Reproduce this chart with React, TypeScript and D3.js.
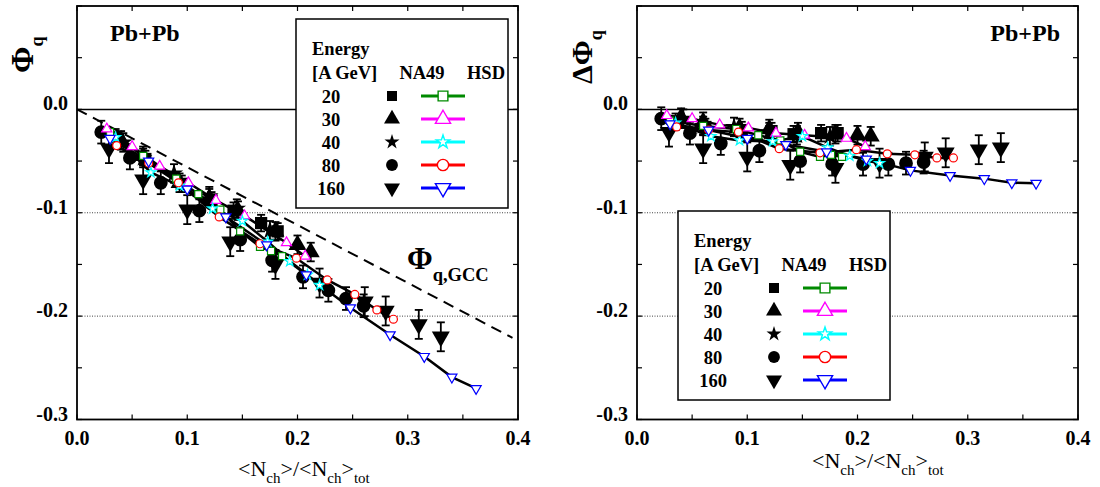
import React from 'react';
import * as d3 from 'd3';

// ---------------- data ----------------
const energyLabels = ['20', '30', '40', '80', '160'];
const hsdColors = ['#008a00', '#ff00ff', '#00ffff', '#ff0000', '#0000ff'];
const na49Shapes = ['square', 'triangleUp', 'star', 'circle', 'triangleDown'];

// HSD (open symbols, joined by lines)
const hsdX20 = [0.030, 0.060, 0.090, 0.110, 0.130, 0.148, 0.166, 0.176, 0.186];
const hsdPhi20 = [-0.022, -0.045, -0.067, -0.082, -0.097, -0.118, -0.133, -0.137, -0.142];
const hsdDPhi20 = [-0.011, -0.016, -0.019, -0.025, -0.030, -0.041, -0.046, -0.044, -0.046];

const hsdX30 = [0.027, 0.050, 0.075, 0.101, 0.126, 0.152, 0.190, 0.207];
const hsdPhi30 = [-0.019, -0.036, -0.055, -0.071, -0.088, -0.103, -0.129, -0.142];
const hsdDPhi30 = [-0.006, -0.009, -0.015, -0.018, -0.023, -0.025, -0.028, -0.036];

const hsdX40 = [0.035, 0.067, 0.093, 0.123, 0.150, 0.173, 0.193, 0.209, 0.220];
const hsdPhi40 = [-0.027, -0.061, -0.074, -0.096, -0.108, -0.128, -0.147, -0.160, -0.170];
const hsdDPhi40 = [-0.013, -0.026, -0.030, -0.031, -0.026, -0.037, -0.045, -0.050, -0.052];

const hsdX80 = [0.036, 0.065, 0.092, 0.129, 0.166, 0.199, 0.227, 0.252, 0.272, 0.287];
const hsdPhi80 = [-0.035, -0.052, -0.071, -0.104, -0.130, -0.144, -0.165, -0.179, -0.194, -0.203];
const hsdDPhi80 = [-0.017, -0.020, -0.022, -0.038, -0.042, -0.039, -0.043, -0.044, -0.047, -0.047];

const hsdX160 = [0.030, 0.065, 0.100, 0.135, 0.172, 0.208, 0.248, 0.284, 0.315, 0.340, 0.362];
const hsdPhi160 = [-0.028, -0.050, -0.077, -0.104, -0.131, -0.160, -0.192, -0.218, -0.239, -0.259, -0.270];
const hsdDPhi160 = [-0.014, -0.020, -0.028, -0.034, -0.041, -0.048, -0.059, -0.064, -0.067, -0.071, -0.0715];

// NA49 (filled symbols with error bars)
const na49X20 = [0.035, 0.062, 0.095, 0.122, 0.142, 0.167, 0.182];
const na49Phi20 = [-0.027, -0.048, -0.072, -0.088, -0.098, -0.110, -0.118];
const na49DPhi20 = [-0.012, -0.017, -0.020, -0.021, -0.024, -0.023, -0.023];

const na49X30 = [0.040, 0.060, 0.093, 0.120, 0.146, 0.180, 0.200, 0.212];
const na49Phi30 = [-0.030, -0.045, -0.071, -0.086, -0.098, -0.118, -0.131, -0.138];
const na49DPhi30 = [-0.008, -0.012, -0.018, -0.019, -0.022, -0.024, -0.025, -0.026];

const na49X40 = [0.042, 0.060, 0.088, 0.120, 0.145, 0.175];
const na49Phi40 = [-0.032, -0.047, -0.062, -0.084, -0.096, -0.117];
const na49DPhi40 = [-0.009, -0.016, -0.017, -0.022, -0.025, -0.026];

const na49X80 = [0.022, 0.048, 0.076, 0.111, 0.148, 0.177, 0.205, 0.228, 0.244, 0.260];
const na49Phi80 = [-0.022, -0.047, -0.071, -0.098, -0.126, -0.146, -0.162, -0.175, -0.183, -0.190];
const na49DPhi80 = [-0.009, -0.023, -0.033, -0.040, -0.050, -0.053, -0.053, -0.053, -0.052, -0.051];

const na49X160 = [0.029, 0.060, 0.100, 0.139, 0.180, 0.220, 0.261, 0.280, 0.310, 0.330];
const na49Phi160 = [-0.038, -0.068, -0.097, -0.128, -0.150, -0.168, -0.186, -0.195, -0.208, -0.220];
const na49DPhi160 = [-0.022, -0.038, -0.046, -0.054, -0.057, -0.052, -0.046, -0.042, -0.039, -0.037];

const na49Err = [0.008, 0.009, 0.009, 0.011, 0.014];

// Grand-canonical reference line (left panel)
const gccX = [0, 0.395];
const gccPhi = [0, -0.221];

const xTicks = [0, 0.1, 0.2, 0.3, 0.4];
const xTickLabels = ['0.0', '0.1', '0.2', '0.3', '0.4'];
const xMinor = [0.05, 0.15, 0.25, 0.35];
const yTicks = [0, -0.1, -0.2, -0.3];
const yTickLabels = ['0.0', '-0.1', '-0.2', '-0.3'];
const yMinor = [0.1, 0.05, -0.05, -0.15, -0.25];
const dottedLevels = [-0.1, -0.2];

// ---------------- helpers ----------------
const hsdXs = [hsdX20, hsdX30, hsdX40, hsdX80, hsdX160];
const hsdPhis = [hsdPhi20, hsdPhi30, hsdPhi40, hsdPhi80, hsdPhi160];
const hsdDPhis = [hsdDPhi20, hsdDPhi30, hsdDPhi40, hsdDPhi80, hsdDPhi160];
const na49Xs = [na49X20, na49X30, na49X40, na49X80, na49X160];
const na49Phis = [na49Phi20, na49Phi30, na49Phi40, na49Phi80, na49Phi160];
const na49DPhis = [na49DPhi20, na49DPhi30, na49DPhi40, na49DPhi80, na49DPhi160];

const FONT = "'Liberation Serif', 'Times New Roman', serif";

function symType(shape: string) {
  if (shape === 'square') return d3.symbolSquare;
  if (shape === 'circle') return d3.symbolCircle;
  if (shape === 'star') return d3.symbolStar;
  return d3.symbolTriangle;
}

const plotSizes: Record<string, number> = { square: 150, triangleUp: 140, star: 105, circle: 150, triangleDown: 140 };
const hsdSizes: Record<string, number> = { square: 50, triangleUp: 45, star: 32, circle: 50, triangleDown: 45 };
const legNaSizes: Record<string, number> = { square: 100, triangleUp: 110, star: 70, circle: 110, triangleDown: 110 };
const legHsdSizes: Record<string, number> = { square: 95, triangleUp: 100, star: 55, circle: 100, triangleDown: 100 };

function Marker({ shape, x, y, size, fill, stroke, sw }: any) {
  const d = d3.symbol().type(symType(shape)).size(size)() as string;
  const rot = shape === 'triangleDown' ? ' rotate(180)' : '';
  return <path d={d} transform={`translate(${x},${y})${rot}`} fill={fill} stroke={stroke || 'none'} strokeWidth={sw || 0} />;
}

function Legend({ x, y }: { x: number; y: number }) {
  const w = 212;
  const h = 189;
  return (
    <g transform={`translate(${x},${y})`} fontFamily={FONT} fontWeight="bold" fontSize={18.5}>
      <rect width={w} height={h} fill="white" stroke="black" strokeWidth={1.5} />
      <text x={16} y={36}>Energy</text>
      <text x={16} y={60}>[A GeV]</text>
      <text x={126} y={60} textAnchor="middle">NA49</text>
      <text x={190} y={60} textAnchor="middle">HSD</text>
      {energyLabels.map((e, i) => {
        const cy = 77 + i * 23;
        return (
          <g key={e}>
            <text x={35} y={cy + 6.5} textAnchor="middle">{e}</text>
            <Marker shape={na49Shapes[i]} x={96} y={cy} size={legNaSizes[na49Shapes[i]]} fill="black" />
            <line x1={125} x2={169} y1={cy} y2={cy} stroke={hsdColors[i]} strokeWidth={3} />
            <Marker shape={na49Shapes[i]} x={147} y={cy} size={legHsdSizes[na49Shapes[i]]} fill="white" stroke={hsdColors[i]} sw={1.4} />
          </g>
        );
      })}
    </g>
  );
}

function Panel({ left, right, yVals, hsdVals, showGcc, legendPos, titleX, titleY }: any) {
  const top = 6;
  const bottom = 419.5;
  const x = d3.scaleLinear().domain([0, 0.4]).range([left, right]);
  const y = d3.scaleLinear().domain([-0.3, 0.1]).range([bottom, top]);
  const line = d3.line<[number, number]>().x((d) => x(d[0])).y((d) => y(d[1]));
  const tk = 5;
  return (
    <g>
      {dottedLevels.map((v) => (
        <line key={v} x1={left} x2={right} y1={y(v)} y2={y(v)} stroke="#444" strokeWidth={1} strokeDasharray="1,1.5" />
      ))}
      <line x1={left} x2={right} y1={y(0)} y2={y(0)} stroke="black" strokeWidth={1.5} />
      {showGcc && (
        <path d={line(gccX.map((v, i) => [v, gccPhi[i]]) as any) as string} fill="none" stroke="black" strokeWidth={2} strokeDasharray="11,7" />
      )}
      {/* HSD lines */}
      {hsdXs.map((xs, i) => (
        <path key={'hl' + i} d={line(xs.map((v, j) => [v, hsdVals[i][j]]) as any) as string} fill="none" stroke="black" strokeWidth={2.5} />
      ))}
      {/* NA49 points */}
      {na49Xs.map((xs, i) => (
        <g key={'na' + i}>
          {xs.map((v, j) => {
            const yv = yVals[i][j];
            const e = na49Err[i];
            const px = x(v);
            return (
              <g key={j}>
                <line x1={px} x2={px} y1={y(yv - e)} y2={y(yv + e)} stroke="black" strokeWidth={1.8} />
                <line x1={px - 4} x2={px + 4} y1={y(yv + e)} y2={y(yv + e)} stroke="black" strokeWidth={1.8} />
                <line x1={px - 4} x2={px + 4} y1={y(yv - e)} y2={y(yv - e)} stroke="black" strokeWidth={1.8} />
                <Marker shape={na49Shapes[i]} x={px} y={y(yv)} size={plotSizes[na49Shapes[i]]} fill="black" />
              </g>
            );
          })}
        </g>
      ))}
      {/* HSD markers */}
      {hsdXs.map((xs, i) => (
        <g key={'hm' + i}>
          {xs.map((v, j) => (
            <Marker key={j} shape={na49Shapes[i]} x={x(v)} y={y(hsdVals[i][j])} size={hsdSizes[na49Shapes[i]]} fill="white" stroke={hsdColors[i]} sw={1.2} />
          ))}
        </g>
      ))}
      <Legend x={legendPos[0]} y={legendPos[1]} />
      {/* frame */}
      <rect x={left} y={top} width={right - left} height={bottom - top} fill="none" stroke="black" strokeWidth={1.8} />
      {[...xTicks, ...xMinor].map((v) => (
        <g key={'xt' + v}>
          <line x1={x(v)} x2={x(v)} y1={bottom} y2={bottom - tk} stroke="black" strokeWidth={1.2} />
          <line x1={x(v)} x2={x(v)} y1={top} y2={top + tk} stroke="black" strokeWidth={1.2} />
        </g>
      ))}
      {[...yTicks, ...yMinor].map((v) => (
        <g key={'yt' + v}>
          <line x1={left} x2={left + tk} y1={y(v)} y2={y(v)} stroke="black" strokeWidth={1.2} />
          <line x1={right} x2={right - tk} y1={y(v)} y2={y(v)} stroke="black" strokeWidth={1.2} />
        </g>
      ))}
      <g fontFamily={FONT} fontWeight="bold" fontSize={20}>
        {xTicks.map((v, i) => (
          <text key={'xl' + i} x={x(v)} y={445} textAnchor="middle">{xTickLabels[i]}</text>
        ))}
        {yTicks.map((v, i) => (
          <text key={'yl' + i} x={left - 9} y={y(v) + 1} textAnchor="end">{yTickLabels[i]}</text>
        ))}
      </g>
      <text x={titleX} y={titleY} fontFamily={FONT} fontSize={22}>
        {'<N'}
        <tspan dy={7} fontSize={15}>ch</tspan>
        <tspan dy={-7} fontSize={22}>{'>/<N'}</tspan>
        <tspan dy={7} fontSize={15}>ch</tspan>
        <tspan dy={-7} fontSize={22}>{'>'}</tspan>
        <tspan dy={7} fontSize={15}>tot</tspan>
      </text>
    </g>
  );
}

export default function App() {
  return (
    <svg width={1100} height={487} style={{ position: 'absolute', left: 0, top: 0, background: 'white' }}>
      <rect width={1100} height={487} fill="white" />
      <Panel left={77} right={518} yVals={na49Phis} hsdVals={hsdPhis} showGcc={true} legendPos={[296, 19]} titleX={238} titleY={476} />
      <Panel left={637} right={1078} yVals={na49DPhis} hsdVals={hsdDPhis} showGcc={false} legendPos={[678, 211]} titleX={812} titleY={468} />
      {/* Pb+Pb labels */}
      <text x={110} y={41} fontFamily={FONT} fontWeight="bold" fontSize={24}>Pb+Pb</text>
      <text x={1060} y={41} fontFamily={FONT} fontWeight="bold" fontSize={24} textAnchor="end">Pb+Pb</text>
      {/* GCC label */}
      <text x={407} y={269} fontFamily={FONT} fontWeight="bold" fontSize={31}>
        Φ<tspan dy={12} fontSize={18.5}>q,GCC</tspan>
      </text>
      {/* y titles */}
      <text transform="translate(33,73) rotate(-90)" fontFamily={FONT} fontWeight="bold" fontSize={32}>
        Φ<tspan dy={10} fontSize={18}>q</tspan>
      </text>
      <text transform="translate(592,84) rotate(-90)" fontFamily={FONT} fontWeight="bold" fontSize={30}>
        ΔΦ<tspan dy={10} fontSize={18}>q</tspan>
      </text>
    </svg>
  );
}
